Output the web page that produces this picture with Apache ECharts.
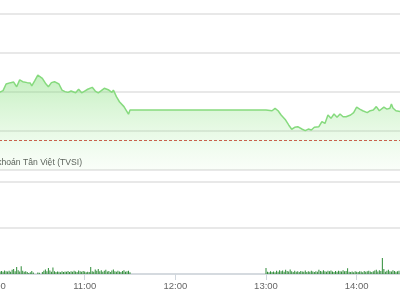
<!DOCTYPE html>
<html>
<head>
<meta charset="utf-8">
<script src="https://cdn.jsdelivr.net/npm/echarts@6/dist/echarts.min.js"></script>
<style>html,body{margin:0;padding:0;background:#fff}#c{width:400px;height:300px}</style>
</head>
<body>
<div id="c"></div>
<script>
var xTickLabels = ['10:00', '11:00', '12:00', '13:00', '14:00'];
var priceTimes = ['10:00','10:04','10:06','10:08','10:11','10:13','10:14','10:15','10:17','10:19','10:22','10:24','10:25','10:27','10:29','10:32','10:34','10:36','10:38','10:40','10:43','10:45','10:47','10:49','10:51','10:54','10:56','10:58','11:00','11:02','11:05','11:07','11:09','11:11','11:13','11:16','11:18','11:19','11:21','11:23','11:26','11:28','11:29','11:30',
'13:00','13:01','13:04','13:06','13:08','13:10','13:13','13:15','13:17','13:19','13:21','13:24','13:26','13:28','13:30','13:32','13:35','13:37','13:39','13:41','13:43','13:45','13:47','13:49','13:51','13:53','13:56','13:58','14:00','14:02','14:04','14:07','14:09','14:11','14:13','14:15','14:18','14:20','14:22','14:23','14:24','14:26','14:29'];
var prices = [1023.85,1024.00,1024.07,1024.41,1024.48,1024.51,1024.41,1024.27,1024.62,1024.53,1024.48,1024.46,1024.31,1024.58,1024.87,1024.70,1024.45,1024.27,1024.48,1024.53,1024.41,1024.10,1024.02,1023.98,1024.05,1023.96,1024.14,1023.96,1024.05,1024.14,1024.24,1024.05,1023.96,1024.07,1024.19,1024.10,1023.98,1024.10,1023.76,1023.50,1023.25,1022.99,1022.86,1023.08,
1023.08,1023.16,1023.04,1023.16,1023.04,1022.82,1022.56,1022.31,1022.09,1022.19,1022.22,1022.09,1022.02,1022.10,1022.05,1022.19,1022.22,1022.48,1022.39,1022.82,1022.65,1022.87,1022.70,1022.87,1022.73,1022.73,1022.82,1022.94,1023.22,1023.12,1023.04,1022.94,1023.04,1023.08,1023.25,1023.04,1023.22,1023.12,1023.17,1023.38,1023.18,1023.04,1022.99];
var refPrice = 1021.54;
var volMorningStart = '10:00';
var volMorning = [12,10,14,9,11,13,10,15,12,11,
14,10,18,22,12,30,16,11,34,14,
10,12,9,4,8,13,6,0,0,7,
5,0,9,14,20,12,26,15,10,28,
12,9,11,10,8,12,9,11,10,13,
9,12,10,14,11,9,15,12,10,13,
11,8,10,9,30,12,10,20,14,22,
12,16,10,14,18,11,13,9,15,20,
12,10,14,11,9,13,16,10,12,14,
8];
var volAfternoonStart = '13:00';
var volAfternoon = [26,10,8,12,9,11,8,14,10,16,
12,15,10,18,13,11,20,12,9,14,
10,12,9,13,11,10,15,9,12,10,
14,11,9,12,10,18,13,11,16,12,
10,14,12,15,11,9,13,10,14,12,
11,16,12,13,25,10,9,11,8,12,
10,9,12,11,8,13,10,12,14,11,
9,12,15,18,11,16,13,70,22,10,
14,18,12,11,16,13,10,12,14,11];
var sourceText = 'Nguồn: Công ty Chứng khoán Tân Việt (TVSI)';

function toMin(s){var p=s.split(':');return (+p[0])*60+(+p[1]);}
function fmt(v){var h=Math.floor(v/60),m=v%60;return h+':'+(m<10?'0':'')+m;}
var priceData = priceTimes.map(function(t,i){return [toMin(t), prices[i]];});
var volData = [];
volMorning.forEach(function(v,i){volData.push([toMin(volMorningStart)+i, v]);});
volAfternoon.forEach(function(v,i){volData.push([toMin(volAfternoonStart)+i, v]);});
var xMin = toMin(xTickLabels[0]), xMax = toMin('14:30');

var chart = echarts.init(document.getElementById('c'), null, {renderer:'canvas'});
var split = {show:true, lineStyle:{color:'#e8e8e8', width:2}};
chart.setOption({
  animation:false,
  backgroundColor:'#ffffff',
  grid:[
    {left:-6, right:-2, top:14, height:156, outerBoundsMode:'none', containLabel:false},
    {left:-6, right:-2, top:182, height:92, outerBoundsMode:'none', containLabel:false}
  ],
  xAxis:[
    {type:'value', gridIndex:0, min:xMin, max:xMax, interval:60, show:false},
    {type:'value', gridIndex:1, min:xMin, max:xMax, interval:60,
     axisLine:{show:true, lineStyle:{color:'#cfd6dd', width:1.5}},
     axisTick:{show:true, length:6, lineStyle:{color:'#cfd6dd'}},
     splitLine:{show:false},
     axisLabel:{color:'#666', fontSize:9.5, margin:7, fontFamily:'Liberation Sans', hideOverlap:false,
       formatter:function(v){ return v%60===0 ? fmt(v) : ''; }}}
  ],
  yAxis:[
    {type:'value', gridIndex:0, min:1020, max:1028, interval:2, axisLine:{show:false}, axisTick:{show:false}, axisLabel:{show:false}, splitLine:split},
    {type:'value', gridIndex:1, min:0, max:400, interval:200, axisLine:{show:false}, axisTick:{show:false}, axisLabel:{show:false}, splitLine:split}
  ],
  series:[
    {type:'line', xAxisIndex:0, yAxisIndex:0, data:priceData, symbol:'none',
     lineStyle:{color:'#86da7e', width:1.5},
     areaStyle:{color:new echarts.graphic.LinearGradient(0,0,0,1,[
       {offset:0,color:'rgba(115,218,105,0.6)'},
       {offset:1,color:'rgba(160,235,150,0.08)'}])},
     markLine:{silent:true, symbol:'none', label:{show:false},
       lineStyle:{color:'#c8604c', type:[3,2], width:1},
       data:[{yAxis:refPrice}]}
    },
    {type:'bar', xAxisIndex:1, yAxisIndex:1, data:volData, barWidth:1,
     itemStyle:{color:'#2e8c38'}}
  ],
  graphic:[
    {type:'text', right:318, top:158, style:{text:sourceText, fill:'#555', font:'8.6px "Liberation Sans"', textAlign:'right'}}
  ]
});
</script>
</body>
</html>
